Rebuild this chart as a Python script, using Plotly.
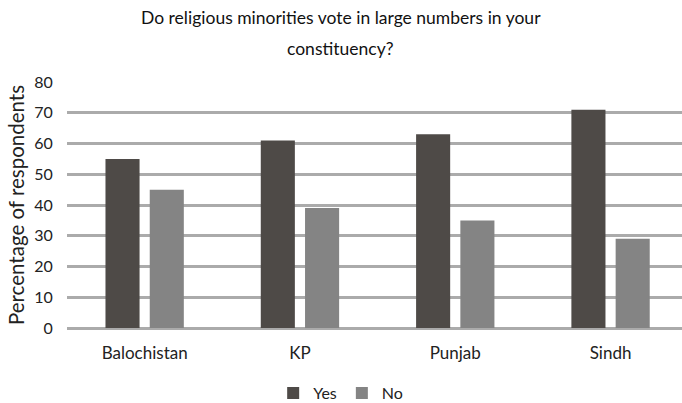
import plotly.graph_objects as go

categories = ["Balochistan", "KP", "Punjab", "Sindh"]
yes_values = [55, 61, 63, 71]
no_values = [45, 39, 35, 29]
title_lines = ["Do religious minorities vote in large numbers in your", "constituency?"]

FONT = "Lato, Open Sans, sans-serif"

fig = go.Figure()
fig.add_trace(go.Bar(name="Yes", x=categories, y=yes_values,
                     marker=dict(color="#4e4a47", line=dict(width=0))))
fig.add_trace(go.Bar(name="No", x=categories, y=no_values,
                     marker=dict(color="#848484", line=dict(width=0))))

# plot area: top 82px, bottom 328px (height 246)
def py(pixel_y):
    return (328 - pixel_y) / 246

fig.update_layout(
    width=682, height=403,
    margin=dict(l=67, r=0, t=82, b=75, autoexpand=False),
    paper_bgcolor="white", plot_bgcolor="white",
    barmode="group", bargap=0.43, bargroupgap=0.23,
    font=dict(family=FONT, color="#222222"),
    legend=dict(orientation="h", x=0.445, xanchor="center", y=py(376), yanchor="top",
                font=dict(size=16, family=FONT), traceorder="normal",
                itemwidth=30),
    xaxis=dict(range=[-0.5, 3.46], showgrid=False, showline=False,
               ticks="outside", ticklen=10, tickcolor="rgba(0,0,0,0)",
               automargin=False,
               tickfont=dict(size=17, family=FONT)),
    yaxis=dict(range=[0, 80], dtick=10, showgrid=True, gridcolor="#ababab",
               gridwidth=2.5, zeroline=True, zerolinecolor="#ababab", zerolinewidth=2.5,
               showline=False, ticks="outside", ticklen=10, tickcolor="rgba(0,0,0,0)",
               automargin=False,
               tickfont=dict(size=16, family=FONT),
               title=dict(text="Percentage of respondents", font=dict(size=20.5, family=FONT),
                          standoff=4)),
    annotations=[
        dict(text=title_lines[0], xref="paper", yref="paper", x=0.4455, y=py(18),
             xanchor="center", yanchor="middle", showarrow=False,
             font=dict(size=17.5, family=FONT, color="#111111")),
        dict(text=title_lines[1], xref="paper", yref="paper", x=0.4455, y=py(48),
             xanchor="center", yanchor="middle", showarrow=False,
             font=dict(size=17.5, family=FONT, color="#111111")),
    ],
)

fig.write_html("out.html", config={"displayModeBar": False},
               post_script="document.body.style.margin='0px';")
